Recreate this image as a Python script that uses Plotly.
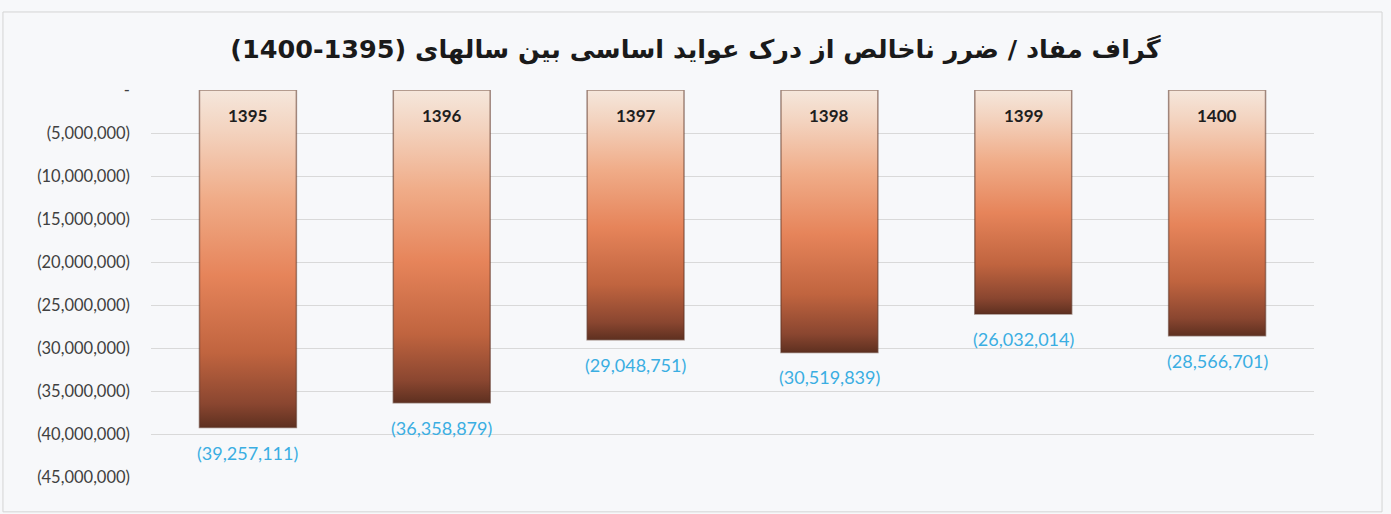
import plotly.graph_objects as go

years = ["1395", "1396", "1397", "1398", "1399", "1400"]
values = [-39257111, -36358879, -29048751, -30519839, -26032014, -28566701]
tick_vals = [0, -5000000, -10000000, -15000000, -20000000, -25000000,
             -30000000, -35000000, -40000000, -45000000]
tick_text = ["-", "(5,000,000)", "(10,000,000)", "(15,000,000)", "(20,000,000)",
             "(25,000,000)", "(30,000,000)", "(35,000,000)", "(40,000,000)", "(45,000,000)"]
title_text = "(1400-1395) گراف مفاد / ضرر ناخالص از درک عواید اساسی بین سالهای"

half_w = 0.25
grad = [[0.0, "#5E3020"], [0.07, "#8A4630"], [0.22, "#C0643F"],
        [0.45, "#E6845A"], [0.68, "#F0AC88"], [0.88, "#F3D3BF"], [1.0, "#F5E7DC"]]

fig = go.Figure()
for i, v in enumerate(values):
    fig.add_trace(go.Scatter(
        x=[i - half_w, i + half_w, i + half_w, i - half_w, i - half_w],
        y=[0, 0, v, v, 0],
        mode="lines",
        fill="toself",
        fillgradient=dict(type="vertical", colorscale=grad),
        line=dict(color="rgba(90,50,35,0.55)", width=1.5),
        hoverinfo="skip",
        showlegend=False,
    ))

for i, (yr, v) in enumerate(zip(years, values)):
    fig.add_annotation(x=i, y=0, text="<b>" + yr + "</b>", showarrow=False,
                       yanchor="middle", yshift=-25,
                       font=dict(family="Lato, Open Sans, sans-serif", size=17, color="#1E1E1E"))
    fig.add_annotation(x=i, y=v, text=f"({abs(v):,})", showarrow=False,
                       yanchor="middle", yshift=-25,
                       font=dict(family="Lato, Open Sans, sans-serif", size=18, color="#3AAEE2"))

fig.add_shape(type="rect", xref="paper", yref="paper",
              x0=-0.1273, x1=1.0585, y0=-0.09, y1=1.2016, line=dict(color="#D4D4D4", width=1),
              fillcolor="rgba(0,0,0,0)", layer="below")

fig.update_layout(
    width=1391, height=514,
    margin=dict(l=151, r=77, t=90, b=37),
    paper_bgcolor="#F7F8FA",
    plot_bgcolor="#F7F8FA",
    title=dict(text="<b>" + title_text + "</b>", x=0.5, xanchor="center",
               y=0.905, yanchor="middle",
               font=dict(family="DejaVu Sans, sans-serif", size=25.5, color="#1A1A1A")),
    xaxis=dict(range=[-0.5, 5.5], showgrid=False, zeroline=False, showticklabels=False,
               fixedrange=True),
    yaxis=dict(range=[-45000000, 0], tickvals=tick_vals, ticktext=tick_text,
               showgrid=True, gridcolor="#D9D9D9", gridwidth=1, zeroline=False,
               ticklabelstandoff=20,
               tickfont=dict(family="Lato, Open Sans, sans-serif", size=16.5, color="#404040")),
)

fig.write_html("out.html", post_script="document.body.style.margin='0px';",
               config={"displayModeBar": False})
